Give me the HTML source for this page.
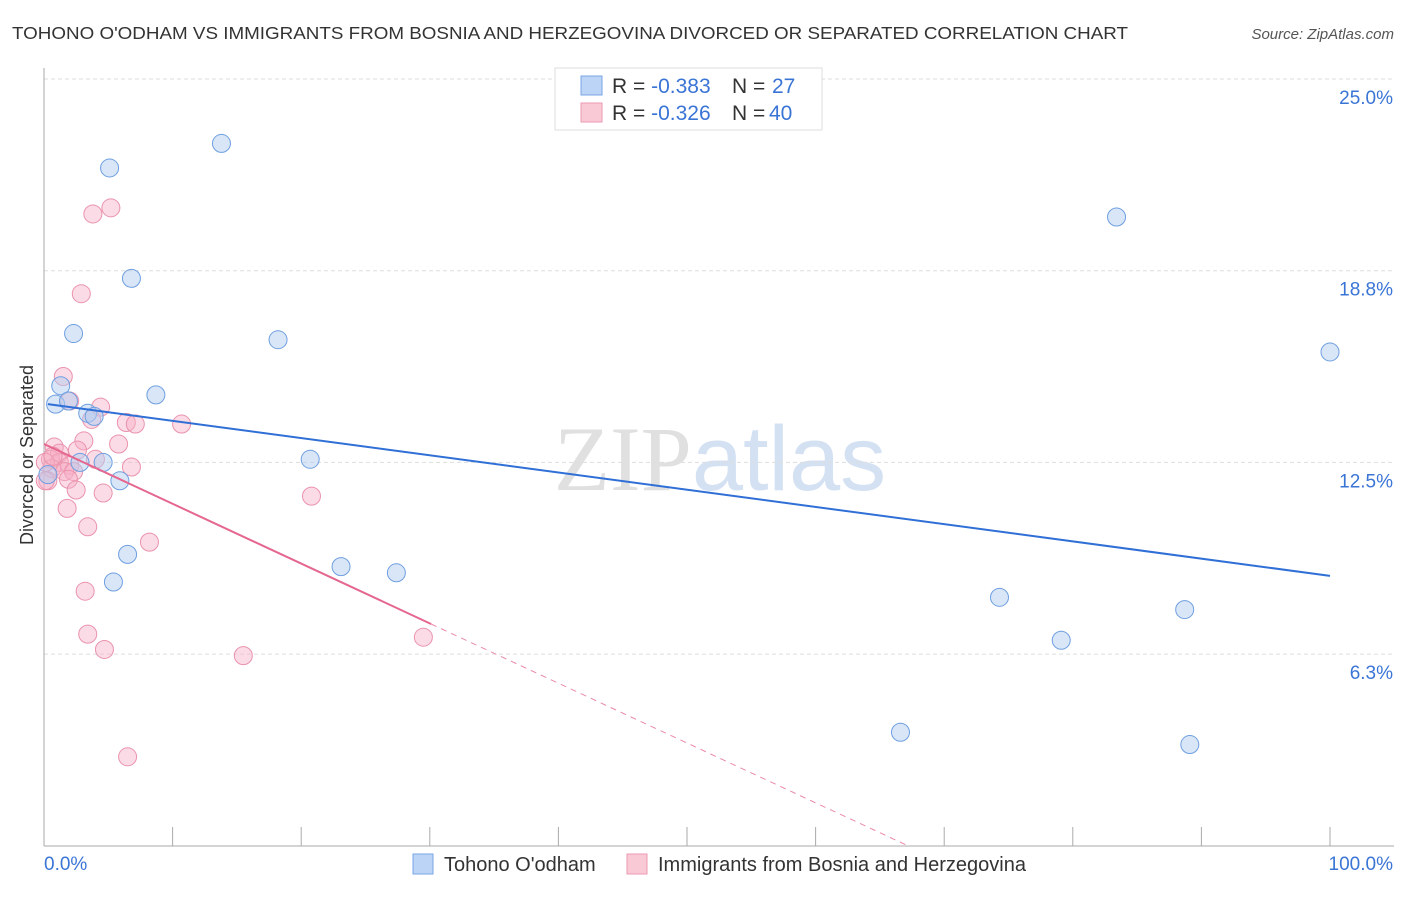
<!DOCTYPE html>
<html><head><meta charset="utf-8"><style>
body{margin:0;background:#fff;font-family:"Liberation Sans",sans-serif;}
</style></head><body>
<svg id="chart" width="1406" height="892" xmlns="http://www.w3.org/2000/svg" style="font-family:'Liberation Sans',sans-serif">
<text x="12" y="39" font-size="17.5" fill="#333" textLength="1116" lengthAdjust="spacingAndGlyphs">TOHONO O'ODHAM VS IMMIGRANTS FROM BOSNIA AND HERZEGOVINA DIVORCED OR SEPARATED CORRELATION CHART</text>
<text x="1394" y="39" font-size="15" fill="#555" text-anchor="end" font-style="italic">Source: ZipAtlas.com</text>
<text x="720" y="490" font-size="92" text-anchor="middle"><tspan fill="#e0e0e0" font-family="Liberation Serif">ZIP</tspan><tspan fill="#d3e1f3">atlas</tspan></text>
<g id="grid"></g>
<line x1="44" y1="68" x2="44" y2="846" stroke="#aaa"/>
<line x1="44" y1="846" x2="1394" y2="846" stroke="#aaa"/>
<g id="xticks"></g>
<text transform="translate(33,455) rotate(-90)" font-size="18" fill="#333" text-anchor="middle">Divorced or Separated</text>
<text x="44" y="870" font-size="19" fill="#3a75d6">0.0%</text>
<text x="1393" y="870" font-size="19" fill="#3a75d6" text-anchor="end">100.0%</text>
<g id="pts"></g>
<g id="lines"></g>
<g>
<rect x="555" y="68" width="267" height="62" fill="#fff" stroke="#ddd"/>
<rect x="581" y="76" width="21" height="19" fill="#bcd4f5" stroke="#7aa6e6"/>
<rect x="581" y="103" width="21" height="19" fill="#f9c9d6" stroke="#ec9ab2"/>
<text x="612" y="93" font-size="21" fill="#333">R = <tspan fill="#3a75d6">-0.383</tspan><tspan x="732">N = </tspan><tspan x="772" fill="#3a75d6">27</tspan></text>
<text x="612" y="120" font-size="21" fill="#333">R = <tspan fill="#3a75d6">-0.326</tspan><tspan x="732">N = </tspan><tspan x="769" fill="#3a75d6">40</tspan></text>
</g>
<g>
<rect x="413" y="854" width="20" height="20" fill="#bcd4f5" stroke="#7aa6e6"/>
<text x="444" y="871" font-size="20" fill="#333">Tohono O'odham</text>
<rect x="627" y="854" width="20" height="20" fill="#f9c9d6" stroke="#ec9ab2"/>
<text x="658" y="871" font-size="20" fill="#333">Immigrants from Bosnia and Herzegovina</text>
</g>
</svg>
<script>
const yTicks=[25.0,18.8,12.5,6.3];
const yTickVals=[25,18.75,12.5,6.25];
const blueX=[13.8,5.1,83.4,6.8,2.3,18.2,100,1.3,8.7,0.9,1.9,3.4,3.9,20.7,2.8,4.6,5.9,0.3,6.5,23.1,27.4,5.4,74.3,88.7,79.1,66.6,89.1];
const blueY=[22.9,22.1,20.5,18.5,16.7,16.5,16.1,15.0,14.7,14.4,14.5,14.1,14.0,12.6,12.5,12.5,11.9,12.1,9.5,9.1,8.9,8.6,8.1,7.7,6.7,3.7,3.3];
const pinkX=[5.2,3.8,2.9,1.5,2.0,4.4,3.7,6.4,7.1,10.7,3.1,5.8,0.8,1.2,2.6,4.0,0.5,1.2,2.0,6.8,0.6,1.6,2.3,0.3,1.9,2.5,4.6,20.8,1.8,3.4,8.2,3.2,3.4,29.5,4.7,15.5,6.5,0.1,0.1,0.7];
const pinkY=[20.8,20.6,18.0,15.3,14.5,14.3,13.9,13.8,13.75,13.75,13.2,13.1,13.0,12.8,12.9,12.6,12.6,12.5,12.4,12.35,12.3,12.2,12.2,11.9,11.95,11.6,11.5,11.4,11.0,10.4,9.9,8.3,6.9,6.8,6.4,6.2,2.9,11.9,12.5,12.7];
const blueTrend=[14.4,8.8];
const pinkTrend=[13.1,-6.4];
const pinkSolidEnd=30.1;
const NS="http://www.w3.org/2000/svg";
const X=v=>44+v*12.86, Y=v=>79+(25-v)*30.67;
function mk(t,a,p){const e=document.createElementNS(NS,t);for(const k in a)e.setAttribute(k,a[k]);p.appendChild(e);return e;}
const grid=document.getElementById('grid');
yTickVals.forEach((v,i)=>{
 const l=mk('line',{x1:44,x2:1394,y1:Y(v),y2:Y(v),stroke:'#ddd','stroke-dasharray':'4,3'},grid);
 
 
 const t=mk('text',{x:1393,y:Y(v)+25,'font-size':19,fill:'#3a75d6','text-anchor':'end'},grid);
 t.textContent=yTicks[i].toFixed(1)+'%';
 
 
});
const xt=document.getElementById('xticks');
for(let i=1;i<=10;i++){
 const l=mk('line',{x1:X(i*10),x2:X(i*10),y1:827,y2:846,stroke:'#aaa'},xt);
 
 
}
const pts=document.getElementById('pts');
pinkX.forEach((x,i)=>{
 const c=mk('circle',{cx:X(x),cy:Y(pinkY[i]),r:9,fill:'rgba(246,176,197,0.45)',stroke:'#ea93ad','stroke-width':1},pts);
 
 
});
blueX.forEach((x,i)=>{
 const c=mk('circle',{cx:X(x),cy:Y(blueY[i]),r:9,fill:'rgba(178,205,242,0.5)',stroke:'#6f9fe0','stroke-width':1},pts);
 
 
});
const ln=document.getElementById('lines');
const pv=x=>pinkTrend[0]+(pinkTrend[1]-pinkTrend[0])*x/100;
let b=mk('line',{x1:X(0.3),y1:Y(blueTrend[0]),x2:X(100),y2:Y(blueTrend[1]),stroke:'#2f6fd6','stroke-width':2},ln);


let p=mk('line',{x1:X(0),y1:Y(pv(0)),x2:X(pinkSolidEnd),y2:Y(pv(pinkSolidEnd)),stroke:'#e5668e','stroke-width':2},ln);


const zx=-pinkTrend[0]/((pinkTrend[1]-pinkTrend[0])/100);
let d=mk('line',{x1:X(pinkSolidEnd),y1:Y(pv(pinkSolidEnd)),x2:X(zx),y2:Y(0),stroke:'#e98aa8','stroke-width':1,'stroke-dasharray':'6,5'},ln);


</script>
</body></html>
